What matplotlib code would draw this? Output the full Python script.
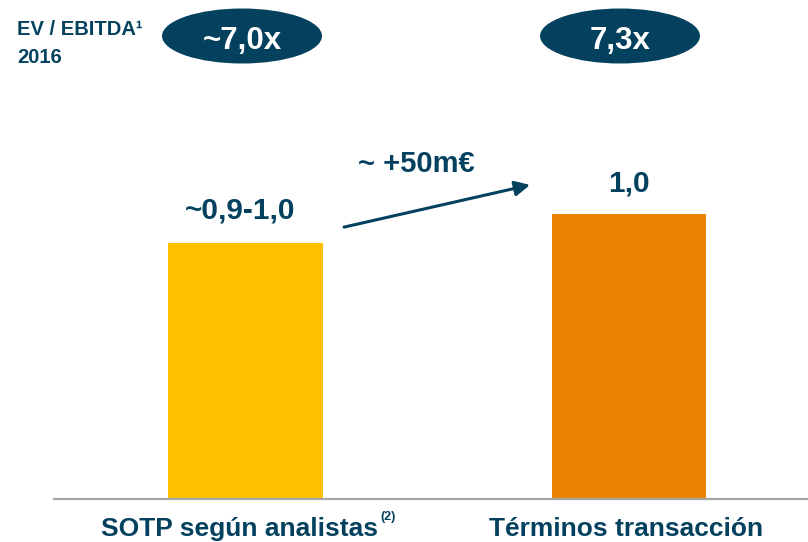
import matplotlib
matplotlib.use("Agg")
import matplotlib.pyplot as plt
from matplotlib.patches import Ellipse

plt.rcParams["font.family"] = ["Liberation Sans", "DejaVu Sans"]

# Data
categories = ["SOTP según analistas", "Términos transacción"]
values = [0.9, 1.0]
value_labels = ["~0,9-1,0", "1,0"]
multiples = ["~7,0x", "7,3x"]
multiple_title = ["EV / EBITDA\u00b9", "2016"]
delta_label = "~ +50m€"

NAVY = "#04415F"
BAR_COLORS = ["#FFC000", "#E98300"]
AXIS_GREY = "#A6A6A6"

W, H = 808, 542
fig = plt.figure(figsize=(W / 100, H / 100), dpi=100)


def fx(px):
    return px / W


def fy(py):
    return 1 - py / H


# Plot area: baseline at y=499 px, spans to right edge
ax = fig.add_axes([fx(54), fy(499), fx(808 - 54), fy(99) - fy(499)])
ax.set_ylim(0, 400 / 285)
ax.set_xlim(-0.4994, 1.4668)

x = list(range(len(categories)))
ax.bar(x, values, width=0.404, color=BAR_COLORS, zorder=2)

for s in ["top", "right", "left"]:
    ax.spines[s].set_visible(False)
ax.spines["bottom"].set_color(AXIS_GREY)
ax.spines["bottom"].set_linewidth(1.6)
ax.set_yticks([])
ax.set_xticks([])

# Value labels over the bars
offsets = [(-4, 13), (0, 12)]
for xi, v, lab, off in zip(x, values, value_labels, offsets):
    ax.annotate(lab, (xi, v), xytext=off, textcoords="offset points",
                ha="center", va="bottom", fontsize=21.5, fontweight="bold",
                color=NAVY)

# Category labels under the axis
cat_offsets = [-4, -2]
for xi, cat, dx in zip(x, categories, cat_offsets):
    ax.annotate(cat, (xi, 0), xytext=(dx, -26.5), textcoords="offset points",
                ha="center", va="baseline", fontsize=19, fontweight="bold",
                color=NAVY, annotation_clip=False)
fig.text(fx(380), fy(520), "(2)", fontsize=9, fontweight="bold", color=NAVY,
         ha="left", va="baseline")

# Arrow showing the uplift
ax.annotate("", xy=(0.742, 1.102), xytext=(0.257, 0.954),
            arrowprops=dict(arrowstyle="-|>,head_length=0.9,head_width=0.45",
                            color=NAVY, lw=2.2, shrinkA=0, shrinkB=0))
fig.text(fx(416), fy(164), delta_label, fontsize=21, fontweight="bold",
         color=NAVY, ha="center", va="center")

# Header: EV/EBITDA multiples
fig.text(fx(17), fy(35), multiple_title[0], fontsize=14.5, fontweight="bold",
         color=NAVY, ha="left", va="baseline")
fig.text(fx(17), fy(63), multiple_title[1], fontsize=14.5, fontweight="bold",
         color=NAVY, ha="left", va="baseline")

for cx, txt in zip([242, 620], multiples):
    e = Ellipse((fx(cx), fy(36)), fx(160), 55 / H, transform=fig.transFigure,
                facecolor=NAVY, edgecolor="none")
    fig.patches.append(e)
    fig.text(fx(cx), fy(38), txt, fontsize=22.5, fontweight="bold",
             color="white", ha="center", va="center_baseline")

fig.savefig("out.png", dpi=100)
